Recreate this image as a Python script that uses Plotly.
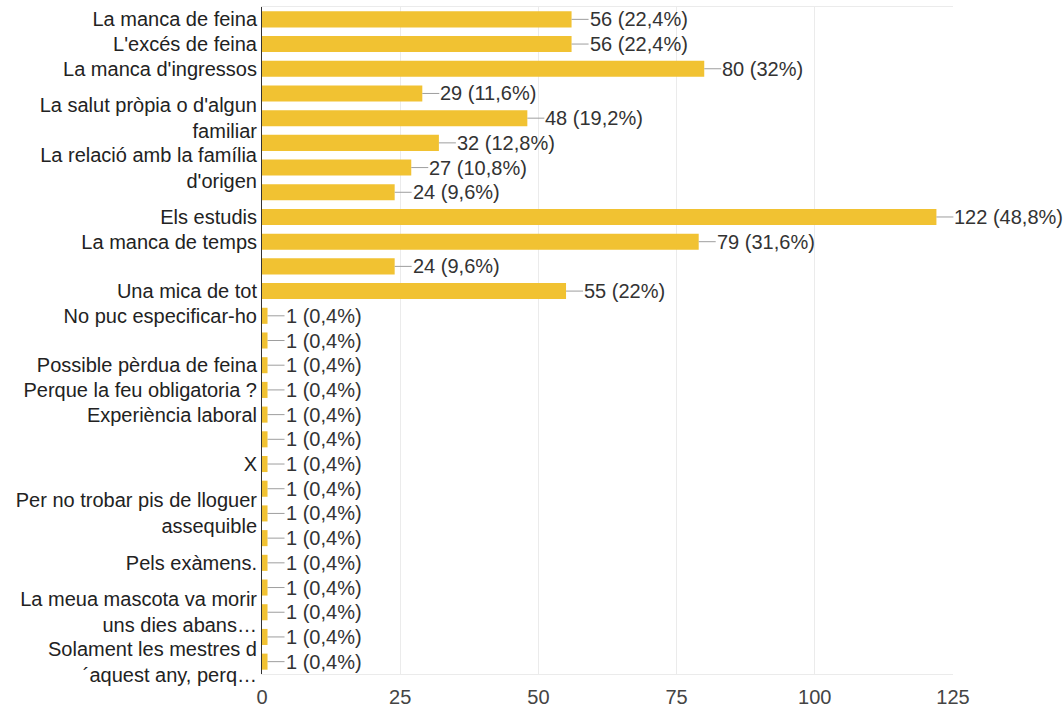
import plotly.graph_objects as go

# Survey answers, top to bottom; empty labels are rows whose text is not shown
labels = [
    "La manca de feina",
    "L'excés de feina",
    "La manca d'ingressos",
    "",
    "La salut pròpia o d'algun<br>familiar",
    "",
    "La relació amb la família<br>d'origen",
    "",
    "Els estudis",
    "La manca de temps",
    "",
    "Una mica de tot",
    "No puc especificar-ho",
    "",
    "Possible pèrdua de feina",
    "Perque la feu obligatoria ?",
    "Experiència laboral",
    "",
    "X",
    "",
    "Per no trobar pis de lloguer<br>assequible",
    "",
    "Pels exàmens.",
    "",
    "La meua mascota va morir<br>uns dies abans…",
    "",
    "Solament les mestres d<br>´aquest any, perq…",
]
counts = [56, 56, 80, 29, 48, 32, 27, 24, 122, 79, 24, 55,
          1, 1, 1, 1, 1, 1, 1, 1, 1, 1, 1, 1, 1, 1, 1]
total_responses = 250
x_ticks = [0, 25, 50, 75, 100, 125]

rows = list(range(len(counts)))

FONT = "Liberation Sans, Arial, sans-serif"
BAR_COLOR = "#F1C232"


def value_label(v):
    pct = round(v * 100 / total_responses, 1)
    txt = f"{pct:.1f}".rstrip("0").rstrip(".").replace(".", ",")
    return f"{v} ({txt}%)"


fig = go.Figure(
    go.Bar(
        x=counts,
        y=rows,
        orientation="h",
        marker=dict(color=BAR_COLOR, line=dict(width=0)),
        hoverinfo="skip",
    )
)

# Count/percentage labels joined to the bar end by a short leader line
for r, v in zip(rows, counts):
    fig.add_annotation(
        x=v, y=r, xref="x", yref="y",
        text=value_label(v),
        showarrow=True, arrowhead=0, arrowwidth=1, arrowcolor="#9e9e9e",
        ax=17, ay=0, standoff=0, startstandoff=0,
        xanchor="left", yanchor="middle",
        borderpad=0,
        font=dict(family=FONT, size=20, color="#333333"),
    )

fig.update_layout(
    width=1064, height=722,
    margin=dict(l=262, r=111, t=7, b=48),
    paper_bgcolor="white", plot_bgcolor="white",
    bargap=0.35,
    showlegend=False,
    font=dict(family=FONT, size=20, color="#222222"),
)
fig.update_xaxes(
    range=[0, 125],
    tickvals=x_ticks,
    showgrid=True, gridcolor="#ebebeb", gridwidth=1,
    zeroline=False,
    showline=True, mirror=True, linecolor="#ebebeb", linewidth=1,
    ticks="",
    ticklabelstandoff=5,
    tickfont=dict(family=FONT, size=20, color="#444444"),
    fixedrange=True,
)
fig.update_yaxes(
    range=[len(counts) - 0.5, -0.5],
    tickvals=rows,
    ticktext=labels,
    showgrid=False, zeroline=False,
    showline=True, linecolor="#333333", linewidth=1,
    ticks="",
    ticklabelstandoff=0,
    tickfont=dict(family=FONT, size=20, color="#222222"),
    fixedrange=True,
)

fig.write_html("out.html", config={"displayModeBar": False})
